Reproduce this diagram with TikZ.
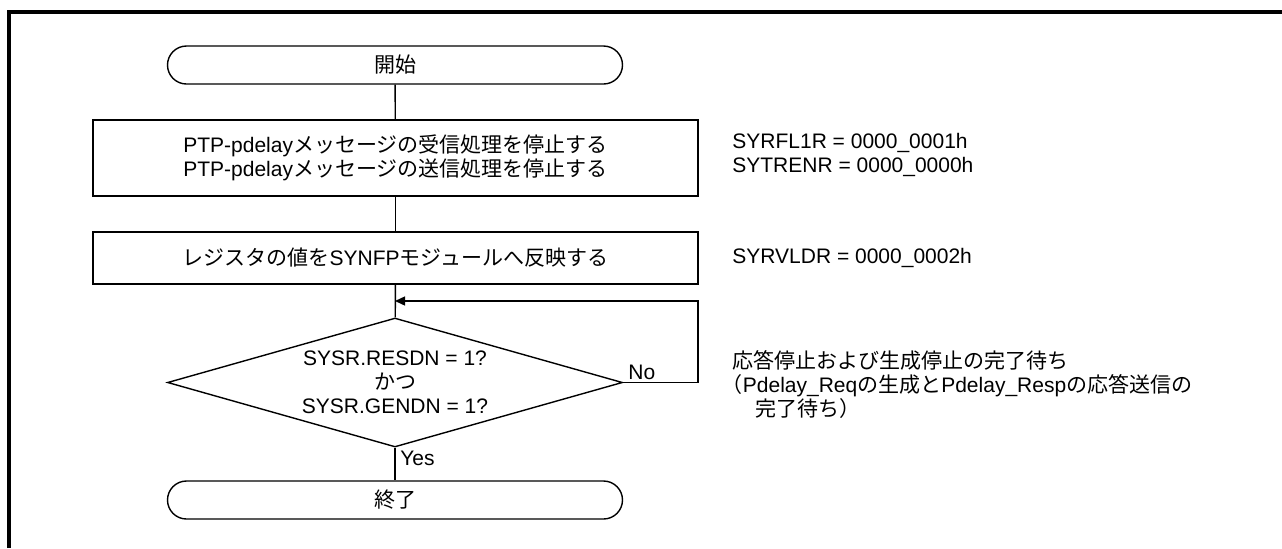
\documentclass[tikz,border=0pt]{standalone}
\usepackage{fontspec}
\setmainfont{Liberation Sans}
\newfontfamily\jp{Noto Sans CJK JP}
\usetikzlibrary{shapes.geometric,arrows.meta}
\begin{document}
\begin{tikzpicture}[x=0.5pt,y=-0.5pt,
  every node/.style={font=\fontsize{10.5}{12}\selectfont, inner sep=0pt},
  proc/.style={draw, line width=0.7pt, minimum width=302.5pt, align=center},
  term/.style={draw, line width=0.7pt, rounded corners=9.5pt, minimum width=227.5pt, minimum height=19pt},
  dec/.style={draw, diamond, aspect=3.5, line width=0.7pt, minimum width=227.5pt, minimum height=64.5pt, align=center},
  conn/.style={line width=0.7pt},
  lbl/.style={anchor=west, align=left}]
\useasboundingbox (0,0) rectangle (1282,548);
\draw[line width=1.6pt] (9,548) -- (9,12) -- (1282,12);

\node[term] (start) at (395,65) {\jp 開始};
\node[proc, minimum height=38pt] (p1) at (395.5,158) {PTP-pdelay{\jp メッセージの受信処理を停止する}\\PTP-pdelay{\jp メッセージの送信処理を停止する}};
\node[proc, minimum height=26pt] (p2) at (395.5,258) {{\jp レジスタの値を}SYNFP{\jp モジュールへ反映する}};
\node[dec] (d) at (395,382.5) {SYSR.RESDN = 1?\\{\jp かつ}\\SYSR.GENDN = 1?};
\node[term] (end) at (395,500) {\jp 終了};

\coordinate (c1) at (698,382.5);
\coordinate (c2) at (698,301);
\coordinate (c3) at (395,301);

\draw[conn] (start) -- (p1);
\draw[conn] (p1) -- (p2);
\draw[conn] (p2) -- (d);
\draw[conn] (d) -- (end);
\draw[conn, -{Triangle[length=5pt,width=4.5pt]}] (d.east) -- (c1) -- (c2) -- (c3);

\node[anchor=west] (no) at (628,372) {No};
\node[anchor=west] (yes) at (400,458) {Yes};

\node[lbl] (r1) at (732,155) {SYRFL1R = 0000\_0001h\\SYTRENR = 0000\_0000h};
\node[lbl] (r2) at (732,258) {SYRVLDR = 0000\_0002h};
\node[lbl] (r3) at (732,385) {{\jp 応答停止および生成停止の完了待ち}\\\hspace*{-0.5em}{\jp （}Pdelay\_Req{\jp の生成と}Pdelay\_Resp{\jp の応答送信の}\\\hspace*{1.1em}{\jp 完了待ち）}};
\end{tikzpicture}
\end{document}
